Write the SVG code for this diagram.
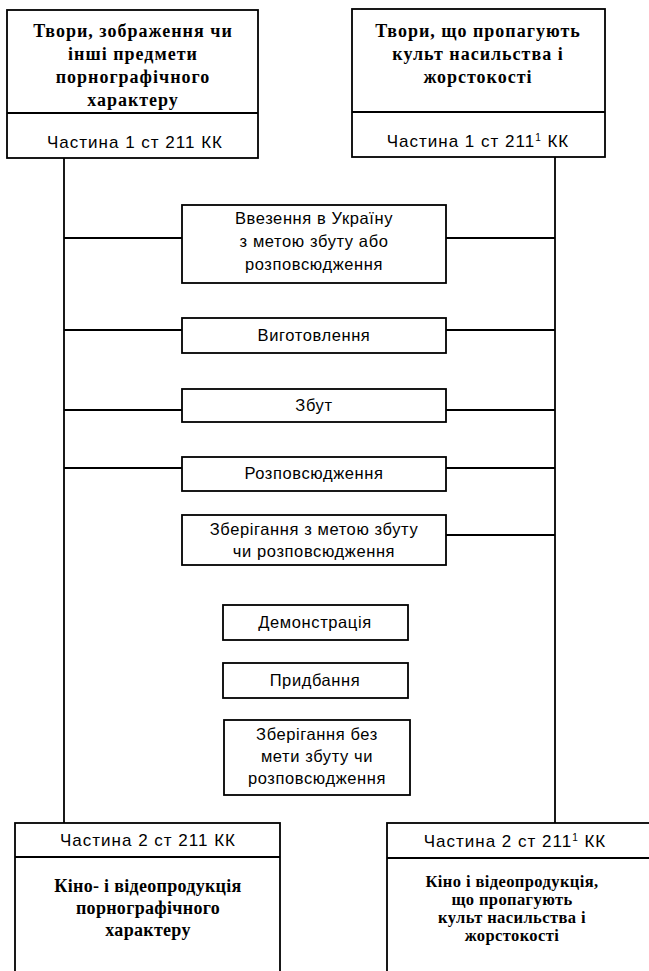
<svg xmlns="http://www.w3.org/2000/svg" width="649" height="971" viewBox="0 0 649 971">
<style>
.box{fill:#fff;stroke:#000;stroke-width:1.8}
.ln{stroke:#000;stroke-width:1.8;fill:none}
.t{font-family:"Liberation Serif",serif;font-weight:bold;font-size:18px;text-anchor:middle;fill:#000;letter-spacing:1px}
.t2{font-family:"Liberation Serif",serif;font-weight:bold;font-size:18px;text-anchor:middle;fill:#000;letter-spacing:0.3px}
.t3{font-family:"Liberation Serif",serif;font-weight:bold;font-size:16.5px;text-anchor:middle;fill:#000;letter-spacing:0.4px}
.s{font-family:"Liberation Sans",Arial,sans-serif;font-size:16.5px;text-anchor:middle;fill:#000;letter-spacing:0.6px}
.c{font-family:"Liberation Sans",Arial,sans-serif;font-size:17px;text-anchor:middle;fill:#000;letter-spacing:1px}
</style>
<rect width="649" height="971" fill="#fff"/>
<g id="connectors">
<line class="ln" x1="64" y1="158" x2="64" y2="823"/>
<line class="ln" x1="555" y1="157" x2="555" y2="823"/>
<line class="ln" x1="64" y1="238" x2="182" y2="238"/>
<line class="ln" x1="64" y1="330" x2="182" y2="330"/>
<line class="ln" x1="64" y1="410" x2="182" y2="410"/>
<line class="ln" x1="64" y1="468" x2="182" y2="468"/>
<line class="ln" x1="446" y1="238" x2="555" y2="238"/>
<line class="ln" x1="446" y1="330" x2="555" y2="330"/>
<line class="ln" x1="446" y1="410" x2="555" y2="410"/>
<line class="ln" x1="446" y1="468" x2="555" y2="468"/>
<line class="ln" x1="446" y1="535" x2="555" y2="535"/>
</g>
<g id="top-left">
<rect class="box" x="7" y="10" width="251" height="148"/>
<line class="ln" x1="7" y1="113" x2="258" y2="113"/>
<text class="t" x="133" y="37">Твори, зображення  чи</text>
<text class="t" x="133" y="60">інші предмети</text>
<text class="t" x="133" y="83">порнографічного</text>
<text class="t" x="133" y="106">характеру</text>
<text class="c" x="135" y="148">Частина 1 ст 211 КК</text>
</g>
<g id="top-right">
<rect class="box" x="352" y="9" width="253" height="148"/>
<line class="ln" x1="352" y1="112" x2="605" y2="112"/>
<text class="t" x="478" y="37">Твори, що пропагують</text>
<text class="t" x="478" y="60">культ насильства і</text>
<text class="t" x="478" y="83">жорстокості</text>
<text class="c" x="478" y="147">Частина 1 ст 211<tspan font-size="10" dy="-6">1</tspan><tspan dy="6"> КК</tspan></text>
</g>
<g id="import">
<rect class="box" x="182" y="205" width="264" height="78"/>
<text class="s" x="314" y="224">Ввезення в Україну</text>
<text class="s" x="314" y="247">з метою збуту або</text>
<text class="s" x="314" y="270">розповсюдження</text>
</g>
<g id="manufacture">
<rect class="box" x="182" y="318" width="264" height="35"/>
<text class="s" x="314" y="341">Виготовлення</text>
</g>
<g id="sale">
<rect class="box" x="182" y="389" width="264" height="33"/>
<text class="s" x="314" y="411">Збут</text>
</g>
<g id="distribution">
<rect class="box" x="182" y="457" width="264" height="34"/>
<text class="s" x="314" y="479">Розповсюдження</text>
</g>
<g id="storage-sale">
<rect class="box" x="182" y="515" width="264" height="50"/>
<text class="s" x="314" y="535">Зберігання з метою збуту</text>
<text class="s" x="314" y="557">чи розповсюдження</text>
</g>
<g id="demonstration">
<rect class="box" x="223" y="605" width="185" height="35"/>
<text class="s" x="315" y="628">Демонстрація</text>
</g>
<g id="acquisition">
<rect class="box" x="223" y="663" width="185" height="35"/>
<text class="s" x="315" y="686">Придбання</text>
</g>
<g id="storage-no-sale">
<rect class="box" x="224" y="720" width="186" height="75"/>
<text class="s" x="317" y="740">Зберігання без</text>
<text class="s" x="317" y="762">мети збуту чи</text>
<text class="s" x="317" y="784">розповсюдження</text>
</g>
<g id="bottom-left">
<rect class="box" x="15" y="823" width="265" height="160"/>
<line class="ln" x1="15" y1="857" x2="280" y2="857"/>
<text class="c" x="148" y="846">Частина 2 ст 211 КК</text>
<text class="t2" x="148" y="892">Кіно- і відеопродукція</text>
<text class="t2" x="148" y="914">порнографічного</text>
<text class="t2" x="148" y="936">характеру</text>
</g>
<g id="bottom-right">
<rect class="box" x="387" y="823" width="280" height="160"/>
<line class="ln" x1="387" y1="858" x2="649" y2="858"/>
<text class="c" x="515" y="847">Частина 2 ст 211<tspan font-size="10" dy="-6">1</tspan><tspan dy="6"> КК</tspan></text>
<text class="t3" x="512" y="887">Кіно і відеопродукція,</text>
<text class="t3" x="512" y="905">що пропагують</text>
<text class="t3" x="512" y="923">культ насильства і</text>
<text class="t3" x="512" y="941">жорстокості</text>
</g>
</svg>
